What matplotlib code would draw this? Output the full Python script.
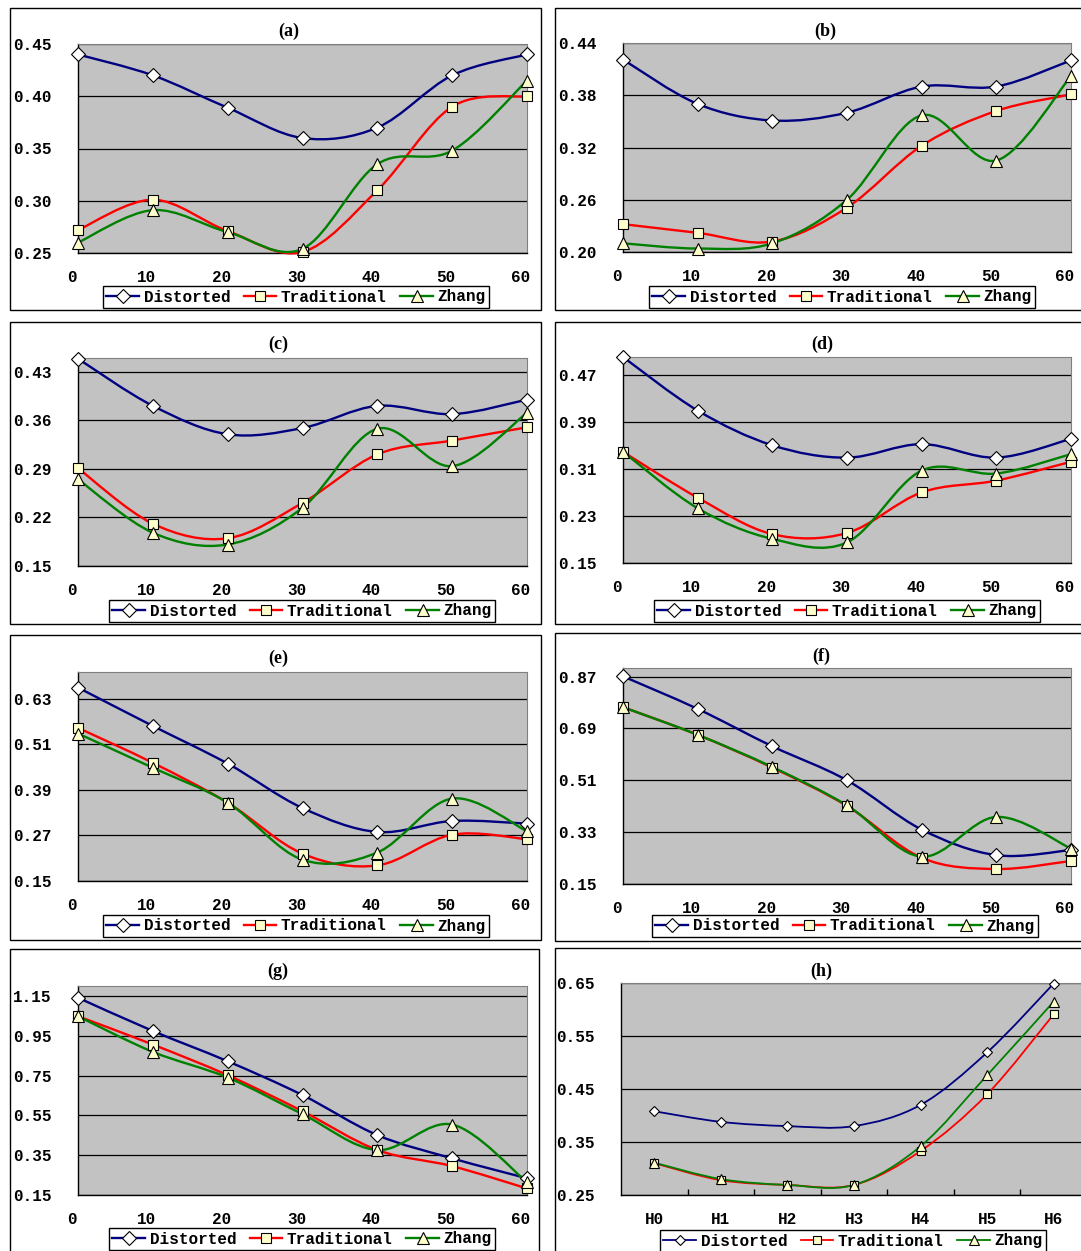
import matplotlib
matplotlib.use('Agg')
import matplotlib.pyplot as plt
import matplotlib.transforms as mtransforms
from matplotlib.path import Path
from matplotlib.patches import PathPatch, Rectangle
from matplotlib.lines import Line2D

W, H = 1081, 1251
FONT = 'Liberation Mono'

minutes = [0, 10, 20, 30, 40, 50, 60]
h_labels = ['H0', 'H1', 'H2', 'H3', 'H4', 'H5', 'H6']
names = ['Distorted', 'Traditional', 'Zhang']

# values
a_dist = [0.440, 0.420, 0.389, 0.360, 0.370, 0.420, 0.440]
a_trad = [0.272, 0.301, 0.271, 0.251, 0.310, 0.390, 0.400]
a_zhang = [0.260, 0.291, 0.270, 0.254, 0.335, 0.348, 0.415]

b_dist = [0.421, 0.370, 0.351, 0.360, 0.390, 0.390, 0.420]
b_trad = [0.232, 0.222, 0.212, 0.251, 0.322, 0.362, 0.381]
b_zhang = [0.210, 0.204, 0.210, 0.260, 0.357, 0.305, 0.402]

c_dist = [0.449, 0.381, 0.340, 0.349, 0.381, 0.369, 0.390]
c_trad = [0.291, 0.211, 0.190, 0.241, 0.311, 0.331, 0.350]
c_zhang = [0.275, 0.198, 0.181, 0.234, 0.348, 0.294, 0.371]

d_dist = [0.500, 0.409, 0.350, 0.329, 0.352, 0.329, 0.361]
d_trad = [0.339, 0.261, 0.199, 0.201, 0.270, 0.290, 0.322]
d_zhang = [0.339, 0.243, 0.191, 0.185, 0.307, 0.302, 0.335]

e_dist = [0.659, 0.558, 0.459, 0.342, 0.279, 0.308, 0.301]
e_trad = [0.553, 0.461, 0.356, 0.222, 0.191, 0.272, 0.260]
e_zhang = [0.538, 0.448, 0.356, 0.206, 0.225, 0.367, 0.281]

f_dist = [0.871, 0.758, 0.628, 0.510, 0.339, 0.250, 0.268]
f_trad = [0.764, 0.668, 0.554, 0.421, 0.241, 0.202, 0.230]
f_zhang = [0.764, 0.668, 0.556, 0.423, 0.245, 0.383, 0.273]

g_dist = [1.141, 0.974, 0.822, 0.652, 0.451, 0.334, 0.234]
g_trad = [1.048, 0.906, 0.752, 0.571, 0.376, 0.295, 0.183]
g_zhang = [1.048, 0.869, 0.740, 0.556, 0.376, 0.504, 0.214]

h_dist = [0.408, 0.388, 0.380, 0.380, 0.420, 0.519, 0.649]
h_trad = [0.310, 0.278, 0.269, 0.269, 0.333, 0.440, 0.591]
h_zhang = [0.311, 0.280, 0.269, 0.269, 0.342, 0.476, 0.615]

colors = ['#000080', '#ff0000', '#008000']
markers = ['D', 's', '^']
mfaces = ['#ffffff', '#ffffcc', '#ffffcc']


def px(x0, y0, x1, y1):
    return [x0 / W, 1 - y1 / H, (x1 - x0) / W, (y1 - y0) / H]


def smooth_path(xs, ys):
    # excel style smoothed line: cubic bezier through every point
    pts = list(zip(xs, ys))
    n = len(pts)
    verts = [pts[0]]
    codes = [Path.MOVETO]
    for i in range(n - 1):
        p0 = pts[i - 1] if i > 0 else pts[i]
        p1 = pts[i]
        p2 = pts[i + 1]
        p3 = pts[i + 2] if i + 2 < n else pts[i + 1]
        c1 = (p1[0] + (p2[0] - p0[0]) / 6, p1[1] + (p2[1] - p0[1]) / 6)
        c2 = (p2[0] - (p3[0] - p1[0]) / 6, p2[1] - (p3[1] - p1[1]) / 6)
        verts += [c1, c2, p2]
        codes += [Path.CURVE4] * 3
    return Path(verts, codes)


# (title, series, ylim, yticks, box, plot area, title pos, legend centre)
panels = [
    ('(a)', (a_dist, a_trad, a_zhang), (0.25, 0.45), [0.25, 0.30, 0.35, 0.40, 0.45],
     (10, 8, 541, 310), (78, 44, 527, 253), (289, 31), (296, 297)),
    ('(b)', (b_dist, b_trad, b_zhang), (0.20, 0.44), [0.20, 0.26, 0.32, 0.38, 0.44],
     (555, 8, 1095, 310), (623, 43, 1071, 252), (825, 31), (842, 297)),
    ('(c)', (c_dist, c_trad, c_zhang), (0.15, 0.45), [0.15, 0.22, 0.29, 0.36, 0.43],
     (10, 322, 541, 624), (78, 358, 527, 566), (278, 344), (302, 611)),
    ('(d)', (d_dist, d_trad, d_zhang), (0.15, 0.50), [0.15, 0.23, 0.31, 0.39, 0.47],
     (555, 322, 1095, 624), (623, 357, 1071, 563), (822, 344), (847, 611)),
    ('(e)', (e_dist, e_trad, e_zhang), (0.15, 0.70), [0.15, 0.27, 0.39, 0.51, 0.63],
     (10, 635, 541, 940), (78, 672, 527, 881), (278, 658), (296, 926)),
    ('(f)', (f_dist, f_trad, f_zhang), (0.15, 0.90), [0.15, 0.33, 0.51, 0.69, 0.87],
     (555, 633, 1095, 941), (623, 668, 1071, 884), (821, 656), (845, 926)),
    ('(g)', (g_dist, g_trad, g_zhang), (0.15, 1.20), [0.15, 0.35, 0.55, 0.75, 0.95, 1.15],
     (10, 949, 539, 1270), (78, 986, 527, 1195), (278, 971), (302, 1239)),
    ('(h)', (h_dist, h_trad, h_zhang), (0.25, 0.65), [0.25, 0.35, 0.45, 0.55, 0.65],
     (555, 948, 1095, 1270), (621, 983, 1087, 1195), (821, 971), (853, 1241)),
]

fig = plt.figure(figsize=(W / 100, H / 100), dpi=100)
fig.patch.set_facecolor('white')
shift = mtransforms.ScaledTranslation(-6 / 100, 0, fig.dpi_scale_trans)

for title, series, ylim, yticks, box, area, tpos, lpos in panels:
    is_h = title == '(h)'
    bx0, by0, bx1, by1 = box
    fig.add_artist(Rectangle((bx0 / W, 1 - by1 / H), (bx1 - bx0) / W, (by1 - by0) / H,
                             transform=fig.transFigure, facecolor='white',
                             edgecolor='black', lw=1.0, zorder=-2))
    ax = fig.add_axes(px(*area))
    ax.set_facecolor('#c2c2c2')
    if is_h:
        xs = list(range(len(h_labels)))
        ax.set_xlim(-0.5, len(h_labels) - 0.5)
        ax.set_xticks(xs)
        ax.set_xticklabels(h_labels)
        ax.set_xticks([i + 0.5 for i in range(len(h_labels) - 1)], minor=True)
        ax.tick_params(axis='x', which='minor', direction='in', length=4, width=1, color='black')
    else:
        xs = minutes
        ax.set_xlim(0, 60)
        ax.set_xticks(minutes)
    ax.set_ylim(*ylim)
    ax.set_yticks(yticks)
    ax.set_yticklabels(['%.2f' % v for v in yticks])
    ax.tick_params(axis='x', which='major', length=0, pad=12,
                   labelsize=11.5)
    ax.tick_params(axis='y', length=0, pad=47, labelsize=11.5)
    for lab in ax.get_yticklabels():
        lab.set_ha('left')
        lab.set_family(FONT)
        lab.set_weight('bold')
    for lab in ax.get_xticklabels():
        lab.set_family(FONT)
        lab.set_weight('bold')
        if not is_h:
            lab.set_transform(lab.get_transform() + shift)
    ax.grid(axis='y', color='black', lw=0.9)
    ax.set_axisbelow(True)
    for s in ['top', 'right']:
        ax.spines[s].set_color('#808080')
        ax.spines[s].set_linewidth(0.8)
    for s in ['left', 'bottom']:
        ax.spines[s].set_color('black')
        ax.spines[s].set_linewidth(1.0)

    lw = 1.3 if is_h else 1.7
    ms_scale = 0.85 if is_h else 1.05
    sizes = [6.5 * ms_scale, 6.6 * ms_scale, 8.4 * ms_scale]
    handles = []
    for ys, c, m, fc, ms in zip(series, colors, markers, mfaces, sizes):
        ax.add_patch(PathPatch(smooth_path(xs, ys), fill=False, edgecolor=c,
                               lw=lw, zorder=3, clip_on=False))
        ax.plot(xs, ys, ls='none', marker=m, ms=ms, mfc=fc, mec='black',
                mew=0.8, zorder=4, clip_on=False)
        handles.append(Line2D([], [], color=c, lw=lw, marker=m, ms=ms,
                              mfc=fc, mec='black', mew=0.8))

    fig.text(tpos[0] / W, 1 - tpos[1] / H, title, ha='center', va='center',
             family='Liberation Serif', weight='bold', fontsize=13)

    leg = fig.legend(handles, names, loc='center',
                     bbox_to_anchor=(lpos[0] / W, 1 - lpos[1] / H),
                     ncol=3, frameon=True, fancybox=False, framealpha=1,
                     edgecolor='black', handlelength=2.05, handletextpad=0.28,
                     columnspacing=0.85, borderpad=0.22,
                     prop={'family': FONT, 'weight': 'bold', 'size': 11.5})
    leg.get_frame().set_linewidth(1.0)

fig.savefig('out.png', dpi=100)
